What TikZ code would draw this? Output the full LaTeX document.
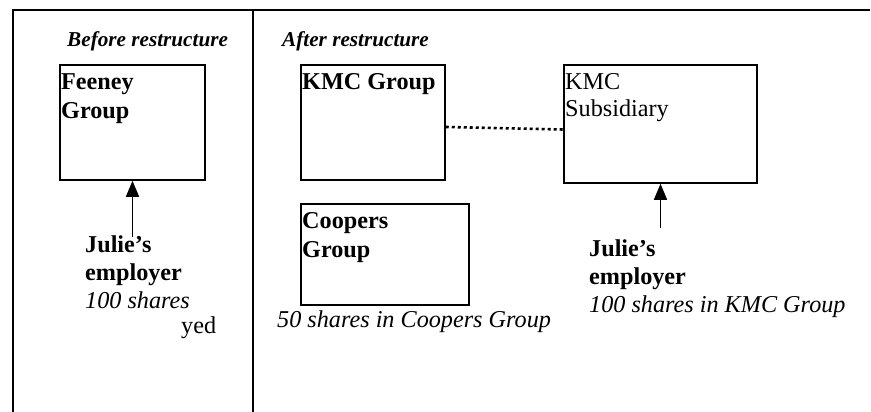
\documentclass[tikz,border=0pt]{standalone}
\usepackage{fontspec}
\setmainfont{Liberation Serif}
\usetikzlibrary{arrows.meta}
\begin{document}
\begin{tikzpicture}[x=1pt,y=-1pt,
  frame/.style={line width=1.6pt},
  entity/.style={draw,line width=1.5pt,rectangle,inner sep=0pt},
  txt/.style={anchor=base west,inner sep=0pt,font=\fontsize{24.2}{28}\selectfont},
  head/.style={anchor=base west,inner sep=0pt,font=\fontsize{21.2}{25}\selectfont\bfseries\itshape},
  owns/.style={line width=1.4pt,-{Triangle[width=13pt,length=16pt]}},
  link/.style={line width=2.6pt,dash pattern=on 3pt off 3pt}]
\useasboundingbox (0,0) rectangle (871,412);

% panel frame
\draw[frame] (13,412) -- (13,10) -- (870,10);
\draw[frame] (253,10) -- (253,412);

% headings
\node[head] (hbefore) at (67,47) {Before restructure};
\node[head] (hafter) at (282,47) {After restructure};

% companies
\node[entity,minimum width=145pt,minimum height=115pt] (feeney) at (132.5,122.5) {};
\node[entity,minimum width=144pt,minimum height=115pt] (kmc) at (373,122.5) {};
\node[entity,minimum width=193pt,minimum height=118pt] (sub) at (660.5,124) {};
\node[entity,minimum width=168pt,minimum height=101pt] (coopers) at (385,254.5) {};

\node[txt] (tfeeney1) at (61,90) {\bfseries Feeney};
\node[txt] (tfeeney2) at (61,118) {\bfseries Group};
\node[txt] (tkmc) at (302,89) {\bfseries KMC Group};
\node[txt] (tsub1) at (565,89) {KMC};
\node[txt] (tsub2) at (565,117) {Subsidiary};
\node[txt] (tcoop1) at (302,228) {\bfseries Coopers};
\node[txt] (tcoop2) at (302,257) {\bfseries Group};
\node[txt] (tcoopsh) at (277,327) {\itshape 50 shares in Coopers Group};

% employer before
\node[txt] (jl1) at (85,252) {\bfseries Julie’s};
\node[txt] (jl2) at (85,280) {\bfseries employer};
\node[txt] (jl3) at (85,308) {\itshape 100 shares};
\node[txt] (jlyed) at (181,333) {yed};

% employer after
\node[txt] (jr1) at (589,256) {\bfseries Julie’s};
\node[txt] (jr2) at (589,284) {\bfseries employer};
\node[txt] (jr3) at (589,312) {\itshape 100 shares in KMC Group};

% connectors
\coordinate (eleft) at (132.5,237);
\coordinate (eright) at (660.5,228);
\draw[owns] (eleft) -- (feeney.south);
\draw[owns] (eright) -- (sub.south);
\draw[link] ([yshift=-4.5pt]kmc.east) -- ([yshift=-5.5pt]sub.west);
\end{tikzpicture}
\end{document}
